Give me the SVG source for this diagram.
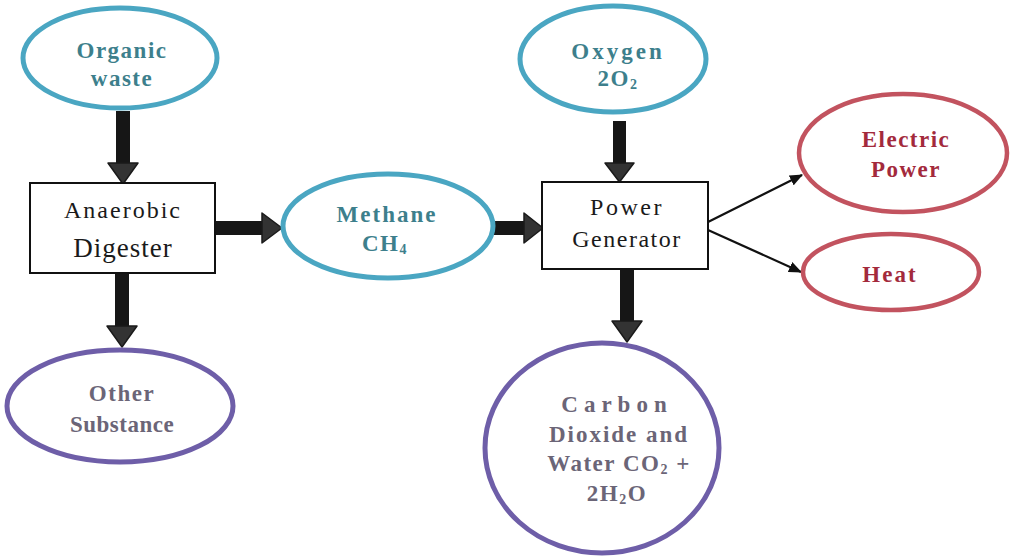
<svg xmlns="http://www.w3.org/2000/svg" width="1010" height="556" viewBox="0 0 1010 556">
<defs>
<style>
.teal{fill:#fff;stroke:#4aa6c2;stroke-width:5}
.purple{fill:#fff;stroke:#6e5ea8;stroke-width:5}
.red{fill:#fff;stroke:#c2535f;stroke-width:4.5}
.box{fill:#fff;stroke:#111;stroke-width:2}
.t{text-anchor:middle;letter-spacing:1.5px}
.tt{fill:#3d7f8c;font-weight:bold;font-size:23px}
.tp{fill:#6b6577;font-weight:bold;font-size:23px}
.tr{fill:#a32a3c;font-weight:bold;font-size:23px}
.tb{fill:#1a1a1a;font-size:24px}
.shaft{fill:#161616}
.head{fill:#333;stroke:#1a1a1a;stroke-width:1.5;stroke-linejoin:round}
.thin{stroke:#111;stroke-width:2.2;fill:none}
</style>
<marker id="ah" viewBox="0 0 12 10" refX="11" refY="5" markerWidth="6" markerHeight="5" orient="auto" markerUnits="strokeWidth">
<path d="M0,0 L12,5 L0,10 z" fill="#111"/>
</marker>
</defs>
<rect width="1010" height="556" fill="#fff"/>
<g id="connectors">
<rect class="shaft" x="116" y="111" width="14" height="54"/>
<polygon class="head" points="108,163 138,163 123,184"/>
<rect class="shaft" x="115" y="274" width="14" height="54"/>
<polygon class="head" points="107,326 137,326 122,347"/>
<rect class="shaft" x="216" y="221" width="48" height="14"/>
<polygon class="head" points="262,213 262,243 282,228"/>
<rect class="shaft" x="493" y="221" width="33" height="14"/>
<polygon class="head" points="524,213 524,243 543,228"/>
<rect class="shaft" x="613" y="121" width="13" height="44"/>
<polygon class="head" points="605,163 634,163 619.5,182"/>
<rect class="shaft" x="620" y="270" width="14" height="53"/>
<polygon class="head" points="612,321 642,321 627,342"/>
<line class="thin" x1="708" y1="222" x2="802" y2="175" marker-end="url(#ah)"/>
<line class="thin" x1="708" y1="230" x2="801" y2="272" marker-end="url(#ah)"/>
</g>
<g font-family="'Liberation Serif', 'DejaVu Serif', 'Times New Roman', serif">
<g id="organic-waste">
<ellipse class="teal" cx="120" cy="58" rx="97" ry="50"/>
<text class="t tt" x="122" y="58">Organic</text>
<text class="t tt" x="122" y="86">waste</text>
</g>
<g id="anaerobic-digester">
<rect class="box" x="30" y="183" width="185" height="90"/>
<text class="t tb" x="123" y="218" style="letter-spacing:2px">Anaerobic</text>
<text class="t tb" x="123" y="257" style="font-size:27px;letter-spacing:1px">Digester</text>
</g>
<g id="other-substance">
<ellipse class="purple" cx="120" cy="406" rx="113" ry="56"/>
<text class="t tp" x="122" y="401">Other</text>
<text class="t tp" x="122" y="432" style="letter-spacing:0.5px">Substance</text>
</g>
<g id="methane">
<ellipse class="teal" cx="388" cy="226" rx="105" ry="52"/>
<text class="t tt" x="387" y="222" style="letter-spacing:2px">Methane</text>
<text class="t tt" x="385" y="251">CH<tspan font-size="14" dy="3">4</tspan></text>
</g>
<g id="oxygen">
<ellipse class="teal" cx="613" cy="59" rx="93" ry="53"/>
<text class="t tt" x="618" y="59" style="letter-spacing:3px">Oxygen</text>
<text class="t tt" x="618" y="86">2O<tspan font-size="14" dy="3">2</tspan></text>
</g>
<g id="power-generator">
<rect class="box" x="542" y="182" width="166" height="87"/>
<text class="t tb" x="627" y="215" style="letter-spacing:2.5px">Power</text>
<text class="t tb" x="627" y="247">Generator</text>
</g>
<g id="electric-power">
<ellipse class="red" cx="903" cy="153" rx="104" ry="59"/>
<text class="t tr" x="906" y="147">Electric</text>
<text class="t tr" x="906" y="177">Power</text>
</g>
<g id="heat">
<ellipse class="red" cx="891" cy="272" rx="88" ry="38"/>
<text class="t tr" x="890" y="282" style="letter-spacing:2px">Heat</text>
</g>
<g id="co2-water">
<ellipse class="purple" cx="602" cy="448" rx="117" ry="105"/>
<text class="t tp" x="617" y="412" style="letter-spacing:6px">Carbon</text>
<text class="t tp" x="619" y="442" style="letter-spacing:2px">Dioxide and</text>
<text class="t tp" x="619" y="471" style="letter-spacing:1.5px">Water CO<tspan font-size="14" dy="3">2</tspan><tspan dy="-3"> +</tspan></text>
<text class="t tp" x="617" y="501">2H<tspan font-size="14" dy="3">2</tspan><tspan dy="-3">O</tspan></text>
</g>
</g>
</svg>
